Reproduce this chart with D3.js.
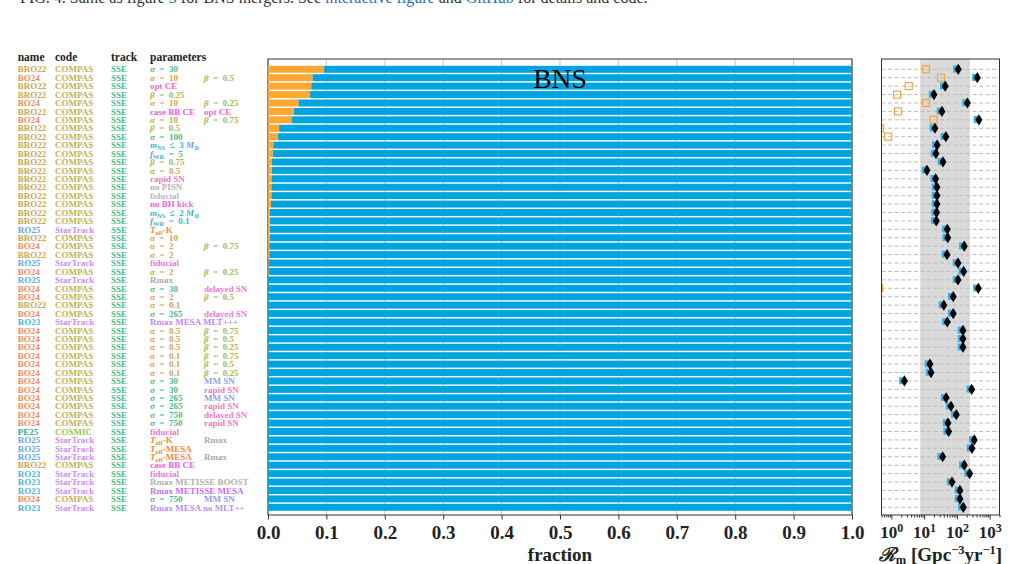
<!DOCTYPE html>
<html>
<head>
<meta charset="utf-8">
<script src="https://cdn.jsdelivr.net/npm/d3@7"></script>
<style>
  body { margin: 0; background: #fff; }
</style>
</head>
<body>
<div id="chart-area"></div>
<script>
// ---- data ----
var names = ["BRO22","BO24","BRO22","BRO22","BO24","BRO22","BO24","BRO22","BRO22","BRO22",
  "BRO22","BRO22","BRO22","BRO22","BRO22","BRO22","BRO22","BRO22","BRO22","RO25",
  "BRO22","BO24","BRO22","RO25","BO24","RO25","BO24","BO24","BRO22","BO24",
  "RO23","BO24","BO24","BO24","BO24","BO24","BO24","BO24","BO24","BO24",
  "BO24","BO24","BO24","PE25","RO25","RO25","RO25","BRO22","RO23","RO23",
  "RO23","BO24","RO23"];
var codes = ["COMPAS","COMPAS","COMPAS","COMPAS","COMPAS","COMPAS","COMPAS","COMPAS","COMPAS","COMPAS",
  "COMPAS","COMPAS","COMPAS","COMPAS","COMPAS","COMPAS","COMPAS","COMPAS","COMPAS","StarTrack",
  "COMPAS","COMPAS","COMPAS","StarTrack","COMPAS","StarTrack","COMPAS","COMPAS","COMPAS","COMPAS",
  "StarTrack","COMPAS","COMPAS","COMPAS","COMPAS","COMPAS","COMPAS","COMPAS","COMPAS","COMPAS",
  "COMPAS","COMPAS","COMPAS","COSMIC","StarTrack","StarTrack","StarTrack","COMPAS","StarTrack","StarTrack",
  "StarTrack","COMPAS","StarTrack"];
var track = "SSE";
var params1 = ["$σ = 30","$α = 10","opt CE","$β = 0.25","$α = 10","case BB CE","$α = 10","$β = 0.5","$σ = 100","$m_{NS} ≤ 3 M_{⊙}",
  "$f_{WR} = 5","$β = 0.75","$α = 0.5","rapid SN","no PISN","fiducial","no BH kick","$m_{NS} ≤ 2 M_{⊙}","$f_{WR} = 0.1","$T_{eff}-K",
  "$α = 10","$α = 2","$α = 2","fiducial","$α = 2","Rmax","$σ = 30","$α = 2","$α = 0.1","$σ = 265",
  "Rmax MESA MLT+++","$α = 0.5","$α = 0.5","$α = 0.5","$α = 0.1","$α = 0.1","$α = 0.1","$σ = 30","$σ = 30","$σ = 265",
  "$σ = 265","$σ = 750","$σ = 750","fiducial","$T_{eff}-K","$T_{eff}-MESA","$T_{eff}-MESA","case BB CE","fiducial","Rmax METISSE BOOST",
  "Rmax METISSE MESA","$σ = 750","Rmax MESA no MLT++"];
var params2 = ["","$β = 0.5","","","$β = 0.25","opt CE","$β = 0.75","","","",
  "","","","","","","","","","",
  "","$β = 0.75","","","$β = 0.25","","delayed SN","$β = 0.5","","delayed SN",
  "","$β = 0.75","$β = 0.5","$β = 0.25","$β = 0.75","$β = 0.5","$β = 0.25","MM SN","rapid SN","MM SN",
  "rapid SN","delayed SN","rapid SN","","Rmax","","Rmax","","","",
  "","MM SN",""];
// fraction of the orange part of each bar (rest is blue)
var orangeFrac = [0.096,0.076,0.074,0.072,0.052,0.044,0.040,0.019,0.017,0.009,
  0.008,0.0068,0.0062,0.0057,0.0057,0.0057,0.005,0.0034,0.003,0.0025,
  0.0025,0.002,0.002,0.0008,0.0008,0,0,0,0,0,
  0,0,0,0,0,0,0,0,0,0,
  0,0,0,0,0,0,0,0,0,0,
  0,0,0];
// merger rate (black diamonds), Gpc^-3 yr^-1
var rateMain = [110,420,44,20,210,35,470,21.4,46,25,
  23,37.6,12.2,22.5,24.6,24.6,24.6,24,23.5,51,
  52.5,168,50,108,161,108,450,77.5,40,77.5,
  51,153,153,153,null,15,16.2,2.5,282,47,
  66,96,53.5,56,340,288,36.8,168,245,71,
  124,124,157];
// orange open squares
var rateAlt = [11.4,32.7,3.4,1.5,11.4,1.6,19.5,0.45,0.8,null,
  null,null,null,null,null,null,null,null,null,null,
  null,null,null,null,null,null,0.42,null,null,null,
  null,null,null,null,null,null,null,null,null,null,
  null,null,null,null,null,null,null,null,null,null,
  null,null,null];
var fracTicks = [0,0.1,0.2,0.3,0.4,0.5,0.6,0.7,0.8,0.9,1.0];
var rateTicks = [1,10,100,1000];
var observedRange = [7.6,250];

// ---- colours ----
var nameColors = { BRO22: "#c9a74d", BO24: "#f8875c", RO25: "#5aa9ea", RO23: "#4cb5d6", PE25: "#33a99a" };
var codeColors = { COMPAS: "#c3af56", StarTrack: "#cf8df2", COSMIC: "#92c84a" };
var trackColor = "#44bd8c";
var textColors = {
  "opt CE": "#f36cc0", "case BB CE": "#ea5de6", "rapid SN": "#f57ab9", "delayed SN": "#f078d4",
  "MM SN": "#8ea0f0", "no PISN": "#b5b5b5", "no BH kick": "#f065d2", "Rmax": "#ababab",
  "Rmax MESA MLT+++": "#c489f3", "Rmax METISSE BOOST": "#b0b0b0", "Rmax METISSE MESA": "#c46ff2",
  "Rmax MESA no MLT++": "#bb8bf2"
};
function paramColor(p, code) {
  if (p.indexOf("σ") >= 0) return "#43bd8b";
  if (p.indexOf("α") >= 0) return "#c8a851";
  if (p.indexOf("β") >= 0) return "#a7b94f";
  if (p.indexOf("m_") >= 0 || p.indexOf("f_") >= 0) return "#3db3d6";
  if (p.indexOf("T_") >= 0) return "#f28a3c";
  if (p === "fiducial") return code === "COMPAS" ? "#b8b8b8" : "#f075d3";
  return textColors[p] || "#999";
}

var serif = "'Liberation Serif', 'DejaVu Serif', serif";
var n = names.length;
var rows = d3.range(n);

var svg = d3.select("#chart-area")
  .append("svg")
  .attr("width", 1009)
  .attr("height", 564);

// caption, cut by the top of the picture
var cap = svg.append("text")
  .attr("x", 20).attr("y", 3)
  .attr("font-family", serif).attr("font-size", 16).attr("fill", "#333");
cap.append("tspan").text("FIG. 4.     Same as figure ");
cap.append("tspan").attr("fill", "#1f6fb4").text("3");
cap.append("tspan").text(" for BNS mergers. See ");
cap.append("tspan").attr("fill", "#1f6fb4").text("interactive figure");
cap.append("tspan").text(" and ");
cap.append("tspan").attr("fill", "#1f6fb4").text("GitHub");
cap.append("tspan").text(" for details and code.");

// ---- table ----
var colX = { name: 17.7, code: 55, track: 111, p1: 150, p2: 204 };
var headers = [["name", colX.name], ["code", colX.code], ["track", colX.track], ["parameters", colX.p1]];
svg.selectAll(".hdr")
  .data(headers)
  .enter()
  .append("text")
  .attr("class", "hdr")
  .attr("x", d => d[1])
  .attr("y", 60.5)
  .attr("font-family", serif)
  .attr("font-weight", "bold")
  .attr("font-size", 11.5)
  .attr("fill", "#222")
  .text(d => d[0]);

var yTop = 59, yBottom = 515;
var y = d3.scaleBand()
  .domain(rows)
  .range([65.8, 510.8])
  .paddingInner(0.17)
  .paddingOuter(0);
var yc = i => y(i) + y.bandwidth() / 2;

// small math markup: leading $ = math (italic symbols, wide spaces), _{..} = subscript
function drawParam(sel, str) {
  var math = str[0] === "$";
  var s = math ? str.slice(1).replace(/ ([=≤]) /g, "\u2002$1\u2002") : str;
  var shift = 0;
  s.split(/(_\{[^}]*\})/).forEach(function(p) {
    if (!p) return;
    if (p.indexOf("_{") === 0) {
      sel.append("tspan").attr("font-size", 6.5).attr("dy", 2 - shift).text(p.slice(2, -1));
      shift = 2;
    } else if (math && p[0] !== "-") {
      p.split(/([σαβmfTM])/).forEach(function(q) {
        if (!q) return;
        var t = sel.append("tspan").attr("dy", -shift).text(q);
        shift = 0;
        if (/^[σαβmfTM]$/.test(q)) t.attr("font-style", "italic");
      });
    } else {
      sel.append("tspan").attr("dy", -shift).text(p);
      shift = 0;
    }
  });
}

var tbl = svg.append("g")
  .attr("font-family", serif)
  .attr("font-weight", "bold")
  .attr("font-size", 9);
rows.forEach(function(i) {
  var ty = yc(i) + 3.2;
  tbl.append("text").attr("x", colX.name).attr("y", ty).attr("fill", nameColors[names[i]]).text(names[i]);
  tbl.append("text").attr("x", colX.code).attr("y", ty).attr("fill", codeColors[codes[i]]).text(codes[i]);
  tbl.append("text").attr("x", colX.track).attr("y", ty).attr("fill", trackColor).text(track);
  drawParam(tbl.append("text").attr("x", colX.p1).attr("y", ty).attr("fill", paramColor(params1[i], codes[i])), params1[i]);
  if (params2[i]) {
    drawParam(tbl.append("text").attr("x", colX.p2).attr("y", ty).attr("fill", paramColor(params2[i], codes[i])), params2[i]);
  }
});

// ---- fraction bars ----
var x = d3.scaleLinear().domain([0, 1]).range([268, 852]);
var gB = svg.append("g");

gB.selectAll(".grid")
  .data(fracTicks)
  .enter()
  .append("line")
  .attr("x1", d => x(d)).attr("x2", d => x(d))
  .attr("y1", yTop).attr("y2", yBottom)
  .attr("stroke", "#b9b9b9")
  .attr("stroke-width", 0.8);

gB.append("rect")
  .attr("x", x(0)).attr("y", yTop)
  .attr("width", x(1) - x(0)).attr("height", yBottom - yTop)
  .attr("fill", "none").attr("stroke", "#333").attr("stroke-width", 1);

gB.selectAll(".bar-blue")
  .data(rows)
  .enter()
  .append("rect")
  .attr("x", i => x(orangeFrac[i]))
  .attr("y", i => y(i))
  .attr("width", i => x(1) - x(orangeFrac[i]))
  .attr("height", y.bandwidth())
  .attr("fill", "#00a5df");

gB.selectAll(".bar-orange")
  .data(rows)
  .enter()
  .append("rect")
  .attr("x", x(0))
  .attr("y", i => y(i))
  .attr("width", i => x(orangeFrac[i]) - x(0))
  .attr("height", y.bandwidth())
  .attr("fill", "#ffa733");

var xAxis = gB.append("g")
  .attr("transform", "translate(0," + yBottom + ")")
  .call(d3.axisBottom(x).tickValues(fracTicks).tickFormat(d3.format(".1f")).tickSize(4.5).tickPadding(6));
xAxis.select(".domain").remove();
xAxis.selectAll("line").attr("stroke", "#333");
xAxis.selectAll("text")
  .attr("font-family", serif)
  .attr("font-weight", "bold")
  .attr("font-size", 19)
  .attr("fill", "#222");

gB.append("text")
  .attr("x", (x(0) + x(1)) / 2)
  .attr("y", 561)
  .attr("text-anchor", "middle")
  .attr("font-family", serif)
  .attr("font-weight", "bold")
  .attr("font-size", 19)
  .attr("fill", "#222")
  .text("fraction");

gB.append("text")
  .attr("x", 560)
  .attr("y", 88.3)
  .attr("text-anchor", "middle")
  .attr("font-family", serif)
  .attr("font-size", 27.5)
  .attr("fill", "#000")
  .text("BNS");

// ---- rate panel ----
var xr = d3.scaleLog().domain([0.5, 2000]).range([881.5, 999.5]);
var gR = svg.append("g");

svg.append("clipPath").attr("id", "rclip")
  .append("rect")
  .attr("x", xr.range()[0]).attr("y", yTop)
  .attr("width", xr.range()[1] - xr.range()[0]).attr("height", yBottom - yTop);

gR.append("rect")
  .attr("x", xr(observedRange[0])).attr("y", yTop)
  .attr("width", xr(observedRange[1]) - xr(observedRange[0]))
  .attr("height", yBottom - yTop)
  .attr("fill", "#dadada");

gR.selectAll(".rowline")
  .data(rows)
  .enter()
  .append("line")
  .attr("x1", xr.range()[0]).attr("x2", xr.range()[1])
  .attr("y1", yc).attr("y2", yc)
  .attr("stroke", "#bdbdbd")
  .attr("stroke-width", 1)
  .attr("stroke-dasharray", "4,2.5");

var pts = gR.append("g").attr("clip-path", "url(#rclip)");

pts.selectAll(".alt")
  .data(rows.filter(i => rateAlt[i] != null))
  .enter()
  .append("rect")
  .attr("x", i => xr(rateAlt[i]) - 3.5)
  .attr("y", i => yc(i) - 3.5)
  .attr("width", 7).attr("height", 7)
  .attr("fill", "none")
  .attr("stroke", "#f7a540")
  .attr("stroke-width", 1.2);

var mainRows = rows.filter(i => rateMain[i] != null);
pts.selectAll(".sq")
  .data(mainRows)
  .enter()
  .append("rect")
  .attr("x", i => xr(rateMain[i]) - 5.2)
  .attr("y", i => yc(i) - 3.8)
  .attr("width", 7).attr("height", 7)
  .attr("fill", "#36b1e6");

pts.selectAll(".dia")
  .data(mainRows)
  .enter()
  .append("path")
  .attr("transform", i => "translate(" + xr(rateMain[i]) + "," + yc(i) + ")")
  .attr("d", "M0,-5.6L3.5,0L0,5.6L-3.5,0Z")
  .attr("fill", "#000");

gR.append("rect")
  .attr("x", xr.range()[0]).attr("y", yTop)
  .attr("width", xr.range()[1] - xr.range()[0]).attr("height", yBottom - yTop)
  .attr("fill", "none").attr("stroke", "#333").attr("stroke-width", 1);

var minorTicks = xr.ticks().filter(d => rateTicks.indexOf(d) < 0);
var rMinor = gR.append("g")
  .attr("transform", "translate(0," + yBottom + ")")
  .call(d3.axisBottom(xr).tickValues(minorTicks).tickSize(2.5).tickFormat(""));
rMinor.select(".domain").remove();
rMinor.selectAll("line").attr("stroke", "#333");

var rMajor = gR.append("g")
  .attr("transform", "translate(0," + yBottom + ")")
  .call(d3.axisBottom(xr).tickValues(rateTicks).tickSize(4.5).tickPadding(6).tickFormat(""));
rMajor.select(".domain").remove();
rMajor.selectAll("line").attr("stroke", "#333");
rMajor.selectAll(".tick text")
  .attr("font-family", serif)
  .attr("font-weight", "bold")
  .attr("font-size", 17)
  .attr("fill", "#222")
  .each(function(d) {
    var t = d3.select(this);
    t.append("tspan").text("10");
    t.append("tspan").attr("dy", "-0.45em").attr("font-size", 12).text(Math.round(Math.log10(d)));
  });

var rl = gR.append("text")
  .attr("x", (xr.range()[0] + xr.range()[1]) / 2)
  .attr("y", 561)
  .attr("text-anchor", "middle")
  .attr("font-family", serif)
  .attr("font-weight", "bold")
  .attr("font-size", 19)
  .attr("fill", "#222");
rl.append("tspan").attr("font-family", "'DejaVu Serif', serif").attr("font-style", "italic").text("ℛ");
rl.append("tspan").attr("font-size", 12.5).attr("dy", 3).text("m");
rl.append("tspan").attr("dy", -3).text(" [Gpc");
rl.append("tspan").attr("font-size", 12.5).attr("dy", -7).text("−3");
rl.append("tspan").attr("dy", 7).text("yr");
rl.append("tspan").attr("font-size", 12.5).attr("dy", -7).text("−1");
rl.append("tspan").attr("dy", 7).text("]");
</script>
</body>
</html>
